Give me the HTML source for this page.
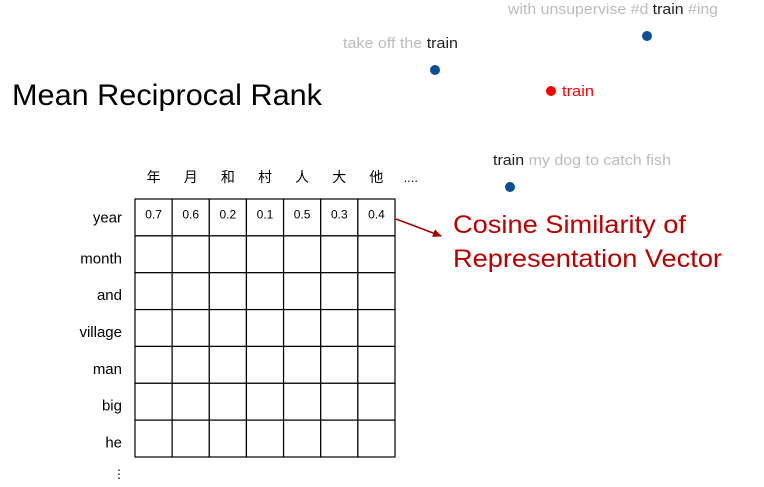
<!DOCTYPE html>
<html><head><meta charset="utf-8"><style>
body{margin:0;background:#fff;width:764px;height:487px;overflow:hidden}
svg{display:block}
text{font-family:"Liberation Sans","Noto Sans CJK SC",sans-serif}
</style></head><body>
<svg id="chart" width="764" height="487">
<defs><marker id="ah" markerWidth="10" markerHeight="10" refX="8" refY="5" orient="auto" markerUnits="userSpaceOnUse"><path d="M0,1 L9,5 L0,9 z" fill="#a00"/></marker></defs>
<text x="12" y="105" font-size="30" textLength="310" lengthAdjust="spacingAndGlyphs" fill="#000">Mean Reciprocal Rank</text>
<text x="508" y="14" font-size="15" textLength="210" lengthAdjust="spacingAndGlyphs" fill="#bbb">with unsupervise #d <tspan fill="#222">train</tspan> #ing</text>
<text x="343" y="48" font-size="15" textLength="115" lengthAdjust="spacingAndGlyphs" fill="#bbb">take off the <tspan fill="#222">train</tspan></text>
<text x="493" y="165" font-size="15" textLength="178" lengthAdjust="spacingAndGlyphs" fill="#bbb"><tspan fill="#222">train</tspan> my dog to catch fish</text>
<circle cx="647" cy="36" r="5" fill="#0b4f9a"/>
<circle cx="435" cy="70" r="5" fill="#0b4f9a"/>
<circle cx="510" cy="187" r="5" fill="#0b4f9a"/>
<circle cx="551" cy="91" r="5" fill="#f00"/>
<text x="562" y="96" font-size="15" textLength="32" lengthAdjust="spacingAndGlyphs" fill="#f00">train</text>
<line x1="396" y1="219" x2="441" y2="236" stroke="#a00" stroke-width="1.5" marker-end="url(#ah)"/>
<text x="453" y="233" font-size="25" textLength="233" lengthAdjust="spacingAndGlyphs" fill="#b00">Cosine Similarity of</text>
<text x="453" y="267" font-size="25" textLength="269" lengthAdjust="spacingAndGlyphs" fill="#b00">Representation Vector</text>
<g id="grid"></g>
</svg>
<script>
const colLabels=["年","月","和","村","人","大","他"];
const rowLabels=["year","month","and","village","man","big","he"];
const yearValues=[0.7,0.6,0.2,0.1,0.5,0.3,0.4];
const NS="http://www.w3.org/2000/svg";
const g=document.getElementById('grid');
const x0=135,x1=395,y0=199,y1=457;
const cw=(x1-x0)/colLabels.length, rh=(y1-y0)/rowLabels.length;
const xs=i=>x0+i*cw, ys=j=>y0+j*rh;
function mk(t,a){const e=document.createElementNS(NS,t);for(const k in a)e.setAttribute(k,a[k]);g.appendChild(e);return e;}
colLabels.forEach((c,i)=>{const t=mk('text',{x:xs(i)+cw/2,y:182,'font-size':14,'text-anchor':'middle'});t.textContent=c;

});
const d=mk('text',{x:xs(7)+cw/2-10,y:182,'font-size':13});d.textContent='....';


rowLabels.forEach((r,j)=>{const t=mk('text',{x:122,y:ys(j)+rh/2+5+(j>0?4:0),'font-size':15,'text-anchor':'end'});t.textContent=r;

});
const v=mk('text',{x:113,y:478,'font-size':12});v.textContent='⋮';


for(let j=0;j<rowLabels.length;j++)for(let i=0;i<colLabels.length;i++){
const r=mk('rect',{x:xs(i),y:ys(j),width:cw,height:rh,fill:'#fff',stroke:'#000','stroke-width':1.2});

}
yearValues.forEach((val,i)=>{const t=mk('text',{x:xs(i)+cw/2,y:ys(0)+rh/2+1,'font-size':12,'text-anchor':'middle'});t.textContent=val.toFixed(1);

});
</script>
</body></html>
